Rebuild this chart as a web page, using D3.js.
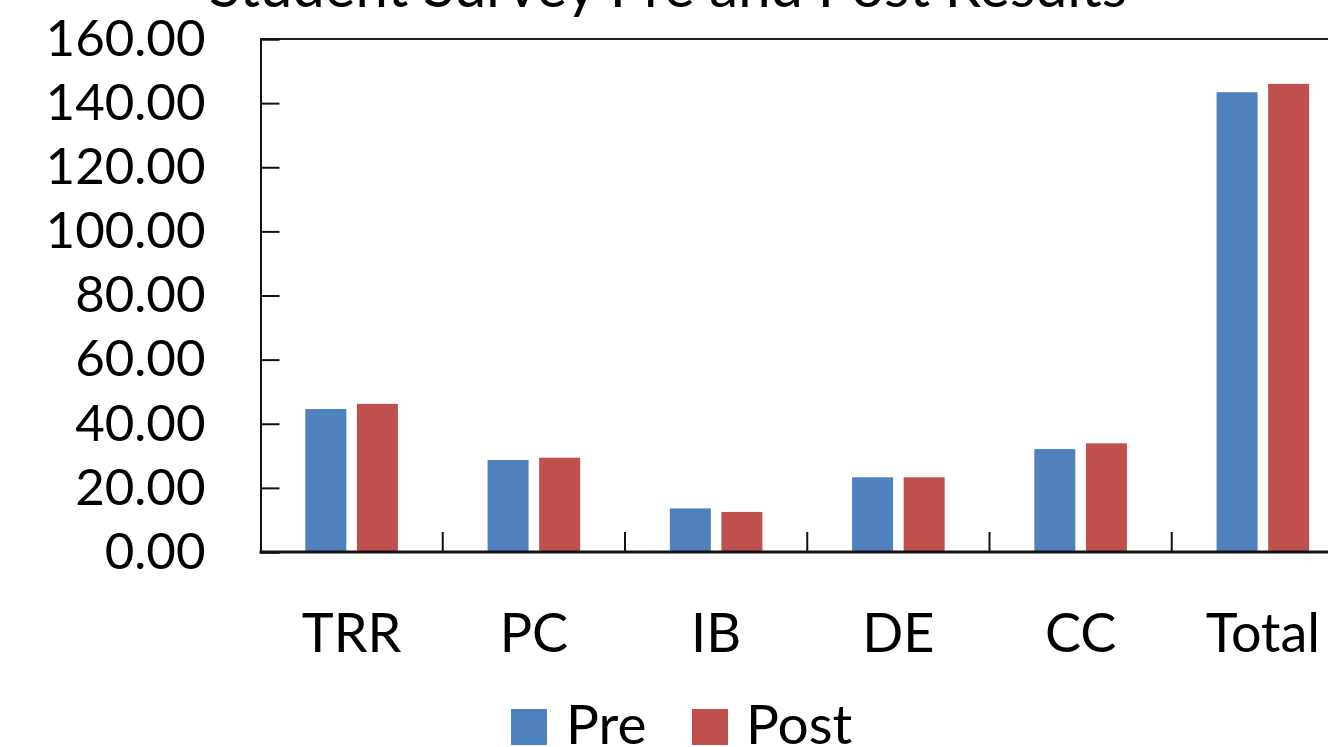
<!DOCTYPE html>
<html>
<head>
<meta charset="utf-8">
<script src="https://cdn.jsdelivr.net/npm/d3@7"></script>
<style>
html,body{margin:0;padding:0;background:#fff;overflow:hidden;}
svg{display:block;}
text{font-family:Lato,"Open Sans",sans-serif;fill:#000;}
</style>
</head>
<body>
<svg id="chart" width="1328" height="747"></svg>
<script>
const title = "Student Survey Pre and Post Results";
const categories = ["TRR", "PC", "IB", "DE", "CC", "Total"];
const seriesNames = ["Pre", "Post"];
const preValues = [44.6, 28.7, 13.6, 23.3, 32.1, 143.4];
const postValues = [46.2, 29.4, 12.5, 23.3, 33.9, 146.0];
const yTicks = [0, 20, 40, 60, 80, 100, 120, 140, 160];
const colors = ["#4F81BD", "#C0504D"];

(function () {
const svg = d3.select("#chart");
const pLeft = 260.5, pRight = 1354, pTop = 39, pBottom = 552;

const x = d3.scaleBand().domain(categories).range([pLeft, pRight]).paddingInner(0).paddingOuter(0);
const xs = d3.scaleBand().domain(seriesNames).range([0, x.bandwidth()]).paddingInner(0.205).paddingOuter(0.869);
const y = d3.scaleLinear().domain([0, 160]).range([pBottom, pTop]);

const data = categories.map((c, i) => ({cat: c, vals: [preValues[i], postValues[i]]}));

// bars
const g = svg.append("g");
data.forEach(d => {
  seriesNames.forEach((s, j) => {
    g.append("rect")
      .attr("x", x(d.cat) + xs(s))
      .attr("y", y(d.vals[j]))
      .attr("width", xs.bandwidth())
      .attr("height", y(0) - y(d.vals[j]))
      .attr("fill", colors[j]);
  });
});

// plot border top/right
svg.append("line").attr("x1", pLeft).attr("x2", pRight).attr("y1", pTop).attr("y2", pTop)
  .attr("stroke", "#222").attr("stroke-width", 2);
svg.append("line").attr("x1", pRight).attr("x2", pRight).attr("y1", pTop).attr("y2", pBottom)
  .attr("stroke", "#222").attr("stroke-width", 2);

// y axis
const yAxis = d3.axisLeft(y).tickValues(yTicks).tickSize(-19).tickPadding(55).tickFormat(d3.format(".2f"));
const ya = svg.append("g").attr("transform", `translate(${pLeft},0)`).call(yAxis);
ya.select(".domain").attr("stroke", "#111").attr("stroke-width", 2);
ya.selectAll(".tick line").attr("stroke", "#111").attr("stroke-width", 2);
ya.selectAll(".tick text").style("font-size", "51px").attr("fill", "#000");

// x axis baseline
svg.append("line").attr("x1", pLeft - 1).attr("x2", pRight).attr("y1", pBottom).attr("y2", pBottom)
  .attr("stroke", "#111").attr("stroke-width", 3);
// boundary ticks (inside)
categories.slice(1).forEach(c => {
  svg.append("line").attr("x1", x(c)).attr("x2", x(c)).attr("y1", pBottom).attr("y2", pBottom - 20)
    .attr("stroke", "#111").attr("stroke-width", 2);
});
// category labels
categories.forEach(c => {
  svg.append("text").attr("x", x(c) + x.bandwidth() / 2).attr("y", 652)
    .attr("text-anchor", "middle").style("font-size", "54px").text(c);
});

// title
svg.append("text").attr("x", 668).attr("y", 7).attr("text-anchor", "middle")
  .style("font-size", "58px").text(title);

// legend
const legend = [{name: "Pre", sx: 511, tx: 566}, {name: "Post", sx: 692, tx: 746}];
legend.forEach((l, i) => {
  svg.append("rect").attr("x", l.sx).attr("y", 709).attr("width", 36).attr("height", 36).attr("fill", colors[i]);
  svg.append("text").attr("x", l.tx).attr("y", 744).style("font-size", "55px").text(l.name);
});
})();
</script>
</body>
</html>
